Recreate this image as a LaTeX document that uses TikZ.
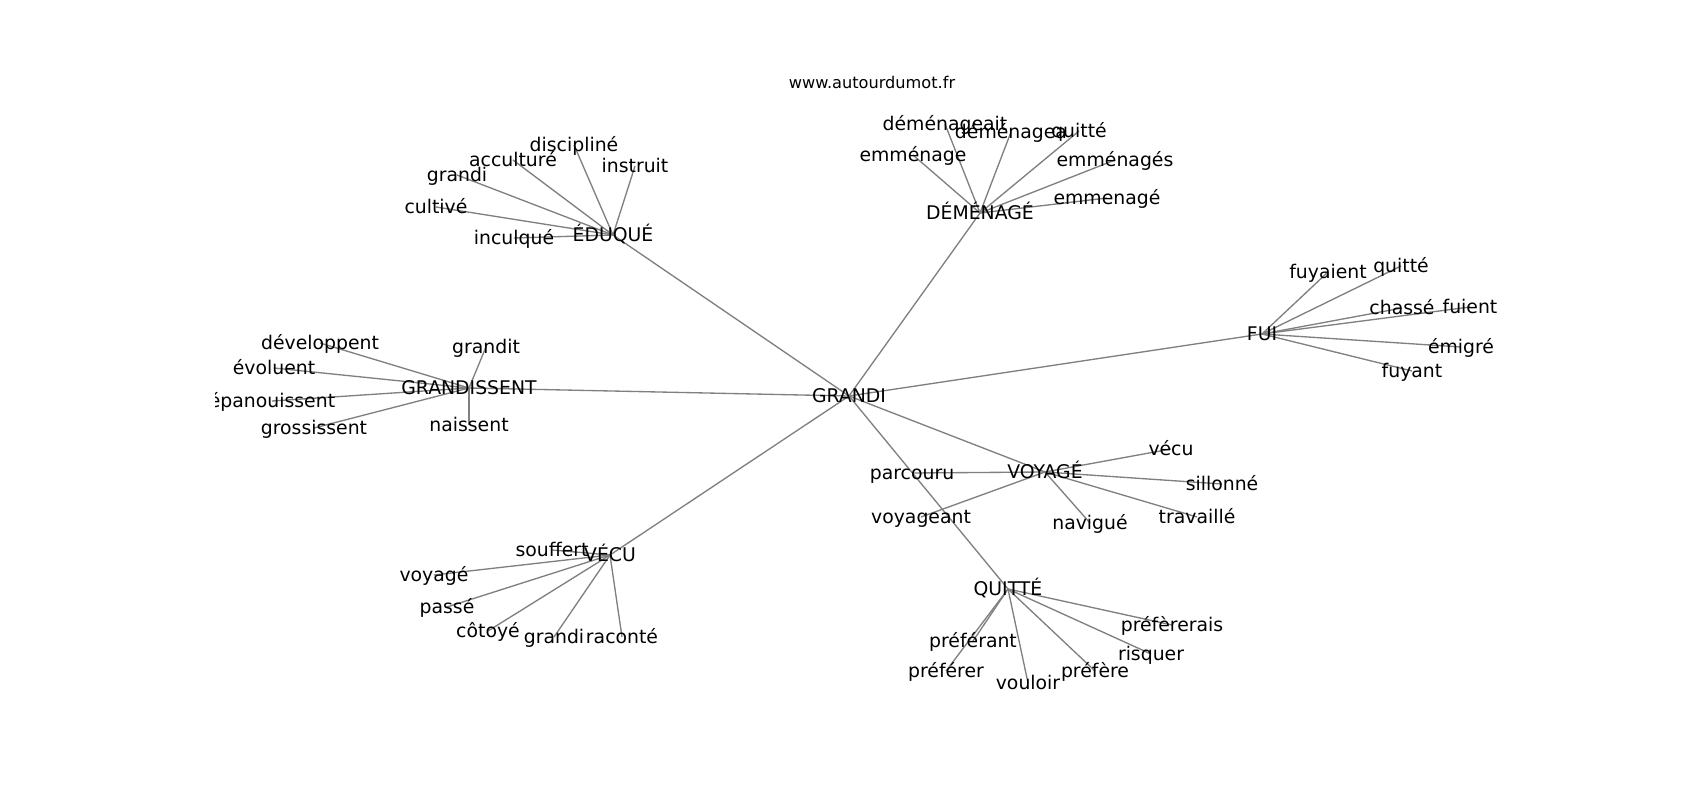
\documentclass[tikz,border=0pt]{standalone}
\usepackage{fontspec}
\setmainfont{DejaVu Sans}
\definecolor{edgegray}{HTML}{808080}
\pgfdeclarelayer{bg}
\pgfsetlayers{bg,main}
\begin{document}
\begin{tikzpicture}[x=0.6pt,y=-0.6pt,
  lbl/.style={inner sep=0pt, anchor=center, text height=0.73em, text depth=0pt,
              font=\fontsize{11.3}{13}\selectfont, text=black},
  ttl/.style={inner sep=0pt, anchor=center, font=\fontsize{9.7}{11}\selectfont, text=black},
  edge/.style={draw=edgegray, line width=0.8pt}]
\useasboundingbox (0,0) rectangle (1700,800);

\node[ttl] (title) at (872,82) {www.autourdumot.fr};

% centre
\node[lbl] (grandi) at (849,396) {GRANDI};

% EDUQUE cluster
\node[lbl] (eduque) at (613,235) {ÉDUQUÉ};
\node[lbl] (e1) at (574,145) {discipliné};
\node[lbl] (e2) at (513,160) {acculturé};
\node[lbl] (e3) at (457,175) {grandi};
\node[lbl] (e4) at (635,166) {instruit};
\node[lbl] (e5) at (436,207) {cultivé};
\node[lbl] (e6) at (514,238) {inculqué};

% DEMENAGE cluster
\node[lbl] (demenage) at (980,213) {DÉMÉNAGÉ};
\node[lbl] (d1) at (945,124) {déménageait};
\node[lbl] (d2) at (1011,132) {déménagea};
\node[lbl] (d3) at (913,155) {emménage};
\node[lbl] (d4) at (1079,131) {quitté};
\node[lbl] (d5) at (1115,160) {emménagés};
\node[lbl] (d6) at (1107,198) {emmenagé};

% GRANDISSENT cluster
\node[lbl] (grandissent) at (469,388) {GRANDISSENT};
\node[lbl] (g1) at (320,343) {développent};
\node[lbl] (g2) at (274,368) {évoluent};
\begin{scope}
\clip (215,0) rectangle (1700,800);
\node[lbl] (g3) at (272,401) {épanouissent};
\end{scope}
\node[lbl] (g4) at (314,428) {grossissent};
\node[lbl] (g5) at (486,347) {grandit};
\node[lbl] (g6) at (469,425) {naissent};

% FUI cluster
\node[lbl] (fui) at (1262,334) {FUI};
\node[lbl] (f1) at (1328,272) {fuyaient};
\node[lbl] (f2) at (1401,266) {quitté};
\node[lbl] (f3) at (1402,308) {chassé};
\node[lbl] (f4) at (1470,307) {fuient};
\node[lbl] (f5) at (1461,347) {émigré};
\node[lbl] (f6) at (1412,371) {fuyant};

% VOYAGE cluster
\node[lbl] (voyage) at (1045,472) {VOYAGÉ};
\node[lbl] (v1) at (1171,449) {vécu};
\node[lbl] (v2) at (912,473) {parcouru};
\node[lbl] (v3) at (1222,484) {sillonné};
\node[lbl] (v4) at (921,517) {voyageant};
\node[lbl] (v5) at (1090,523) {navigué};
\node[lbl] (v6) at (1197,517) {travaillé};

% QUITTE cluster
\node[lbl] (quitte) at (1008,589) {QUITTÉ};
\node[lbl] (q1) at (1172,625) {préfèrerais};
\node[lbl] (q2) at (973,641) {préférant};
\node[lbl] (q3) at (1151,654) {risquer};
\node[lbl] (q4) at (946,671) {préférer};
\node[lbl] (q5) at (1028,683) {vouloir};
\node[lbl] (q6) at (1095,671) {préfère};

% VECU cluster
\node[lbl] (vecu) at (610,555) {VÉCU};
\node[lbl] (c1) at (552,550) {souffert};
\node[lbl] (c2) at (434,575) {voyagé};
\node[lbl] (c3) at (447,607) {passé};
\node[lbl] (c4) at (488,631) {côtoyé};
\node[lbl] (c5) at (554,637) {grandi};
\node[lbl] (c6) at (622,637) {raconté};

\begin{pgfonlayer}{bg}
\fill[white] (0,0) rectangle (1700,800);
\foreach \h in {eduque,demenage,grandissent,fui,voyage,quitte,vecu}
  \draw[edge] (grandi.center) -- (\h.center);
\foreach \n in {e1,e2,e3,e4,e5,e6}
  \draw[edge] (eduque.center) -- (\n.center);
\foreach \n in {d1,d2,d3,d4,d5,d6}
  \draw[edge] (demenage.center) -- (\n.center);
\foreach \n in {g1,g2,g3,g4,g5,g6}
  \draw[edge] (grandissent.center) -- (\n.center);
\foreach \n in {f1,f2,f3,f4,f5,f6}
  \draw[edge] (fui.center) -- (\n.center);
\foreach \n in {v1,v2,v3,v4,v5,v6}
  \draw[edge] (voyage.center) -- (\n.center);
\foreach \n in {q1,q2,q3,q4,q5,q6}
  \draw[edge] (quitte.center) -- (\n.center);
\foreach \n in {c1,c2,c3,c4,c5,c6}
  \draw[edge] (vecu.center) -- (\n.center);
\end{pgfonlayer}
\end{tikzpicture}
\end{document}
